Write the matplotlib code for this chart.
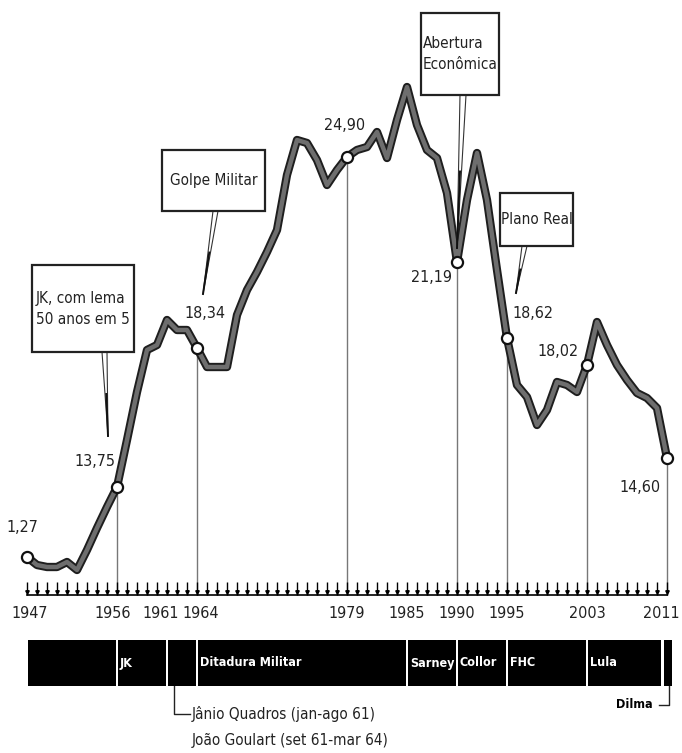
import numpy as np
import matplotlib.pyplot as plt
from matplotlib import font_manager
from matplotlib.patches import Rectangle, Polygon

# look for a narrow face, otherwise a smaller Liberation Sans
narrow = [f for f in font_manager.fontManager.ttflist
          if ('Narrow' in f.name or 'Condensed' in f.name or f.stretch in ('condensed', 'semi-condensed'))]
if narrow:
    plt.rcParams['font.family'] = [narrow[0].name, 'DejaVu Sans']
    if narrow[0].stretch != 'normal':
        plt.rcParams['font.stretch'] = narrow[0].stretch
    fs = 11.5
else:
    plt.rcParams['font.family'] = ['Liberation Sans', 'DejaVu Sans']
    fs = 10

# curve as drawn (visual height above the time axis, chart units)
years = list(range(1947, 2012))
heights = [3.8, 3.0, 2.8, 2.8, 3.3, 2.5, 4.5, 6.7, 8.8, 10.8,
           15.5, 20.3, 24.5, 25.0, 27.5, 26.5, 26.5, 24.7, 22.8, 22.8,
           22.8, 28.0, 30.5, 32.3, 34.3, 36.5, 42.0, 45.5, 45.2, 43.5,
           41.0, 42.5, 43.8, 44.5, 44.8, 46.3, 43.7, 47.5, 50.8, 47.0,
           44.5, 43.7, 40.2, 33.3, 39.5, 44.2, 39.5, 32.5, 25.7, 21.0,
           19.8, 17.0, 18.5, 21.3, 21.0, 20.3, 23.0, 27.3, 25.0, 23.0,
           21.5, 20.2, 19.7, 18.7, 13.7]

# highlighted points and their printed values
mark_years = [1947, 1956, 1964, 1979, 1990, 1995, 2003, 2011]
mark_labels = ['1,27', '13,75', '18,34', '24,90', '21,19', '18,62', '18,02', '14,60']
label_offsets = [(-5, 30), (-22, 26), (8, 35), (-2, 32), (-25, -16), (26, 24), (-29, 13), (-27, -29)]
drop_years = [1956, 1964, 1979, 1990, 1995, 2003, 2011]

tick_years = [1947, 1956, 1961, 1964, 1979, 1985, 1990, 1995, 2003, 2011]
tick_shift = [0.3, -0.4, -0.6, 0.4, 0, 0, 0, 0, 0, -0.6]

# governments timeline
period_starts = [1947, 1956, 1961, 1964, 1985, 1990, 1995, 2003, 2010.6]
period_ends = [1956, 1961, 1964, 1985, 1990, 1995, 2003, 2010.5, 2011.6]
period_names = ['', 'JK', '', 'Ditadura Militar', 'Sarney', 'Collor', 'FHC', 'Lula', '']

# callouts: text, box (left, top, right, bottom) in pixels, pointer base xs and tip in pixels
callouts = [
    ('JK, com lema\n50 anos em 5', (32, 265, 134, 352), (102, 107), (108, 436)),
    ('Golpe Militar', (162, 150, 265, 211), (213, 218), (203, 294)),
    ('Abertura\nEconômica', (421, 13, 499, 95), (460, 466), (457, 248)),
    ('Plano Real', (500, 193, 573, 246), (522, 527), (516, 293)),
]

W, H = 682, 753
fig = plt.figure(figsize=(W / 100, H / 100), dpi=100)
ax = fig.add_axes([0, 0, 1, 1])
x0 = 1947 - 27 / 10
ax.set_xlim(x0, x0 + W / 10)
ax.set_ylim((595 - H) / 10, 59.5)
ax.axis('off')


def px(x, y):
    # pixel position of the image -> data coordinates
    return x0 + x / 10, (595 - y) / 10


yr = np.array(years)
hh = np.array(heights)

# axis with yearly ticks
ax.plot([1947, 2011], [0, 0], color='black', lw=1.2, zorder=2)
ax.vlines(yr, 0, 1.3, color='black', lw=1.0, zorder=2)
ax.plot(yr, np.full(len(yr), 0.35), 'v', color='black', ms=2.5, zorder=2)

# drop lines
for y in drop_years:
    ax.vlines(y, 0, hh[years.index(y)], color='#777777', lw=1.0, zorder=1)

# the curve
ax.plot(yr, hh, color='#1e1e1e', lw=6.0, solid_joinstyle='round', zorder=3)
ax.plot(yr, hh, color='#6e6e6e', lw=3.2, solid_joinstyle='round', zorder=4)

for y, lab, off in zip(mark_years, mark_labels, label_offsets):
    v = hh[years.index(y)]
    ax.plot(y, v, 'o', ms=8, mfc='white', mec='#111111', mew=1.6, zorder=5)
    ax.annotate(lab, (y, v), xytext=off, textcoords='offset pixels',
                ha='center', va='center', fontsize=fs, color='#222222', zorder=6)

for y, sh in zip(tick_years, tick_shift):
    ax.text(y + sh, -1.8, str(y), ha='center', va='center', fontsize=fs, color='#222222')

# callout boxes
for text, (l, t, r, b), (bx1, bx2), tip in callouts:
    xl, yt = px(l, t)
    xr, yb = px(r, b)
    ax.add_patch(Rectangle((xl, yb), xr - xl, yt - yb, facecolor='white',
                           edgecolor='#222222', lw=1.6, zorder=7))
    p1, p2, p3 = px(bx1, b), px(bx2, b), px(*tip)
    ax.add_patch(Polygon([p1, p2, p3], closed=True, facecolor='white',
                         edgecolor='#333333', lw=0.8, zorder=6))
    mid = ((p1[0] + p2[0]) / 2 * 0.5 + p3[0] * 0.5, p1[1] * 0.5 + p3[1] * 0.5)
    ax.plot([mid[0], p3[0]], [mid[1], p3[1]], color='#111111', lw=1.4, zorder=6)
    ax.text((xl + xr) / 2, (yt + yb) / 2, text, ha='center', va='center',
            multialignment='left', fontsize=fs - 0.5, color='#222222',
            linespacing=1.5, zorder=8)

# governments bar
bar_top, bar_bot = px(0, 640)[1], px(0, 686)[1]
for s, e, name in zip(period_starts, period_ends, period_names):
    ax.add_patch(Rectangle((s + 0.1, bar_bot), e - s - 0.2, bar_top - bar_bot,
                           facecolor='black', edgecolor='none', zorder=3))
    if name:
        ax.text(s + 0.3, (bar_top + bar_bot) / 2, name, ha='left', va='center',
                color='white', fontsize=fs - 2.5, fontweight='bold', zorder=4)

# Jânio / Goulart bracket
bx, by = px(174, 686)
_, ly = px(0, 714)
ax.plot([bx, bx, bx + 1.6], [by, ly, ly], color='#222222', lw=1.0)
ax.text(bx + 1.8, ly, 'Jânio Quadros (jan-ago 61)', ha='left', va='center',
        fontsize=fs - 0.5, color='#222222')
ax.text(bx + 1.8, px(0, 741)[1], 'João Goulart (set 61-mar 64)', ha='left',
        va='center', fontsize=fs - 0.5, color='#222222')

# Dilma bracket
dx, dy = px(669, 686)
_, dly = px(0, 705)
ax.plot([dx, dx, dx - 1.0], [dy, dly, dly], color='#222222', lw=1.0)
ax.text(dx - 1.6, dly, 'Dilma', ha='right', va='center', fontsize=fs - 2.5,
        fontweight='bold', color='black')

fig.savefig('out.png', dpi=100, facecolor='white')
